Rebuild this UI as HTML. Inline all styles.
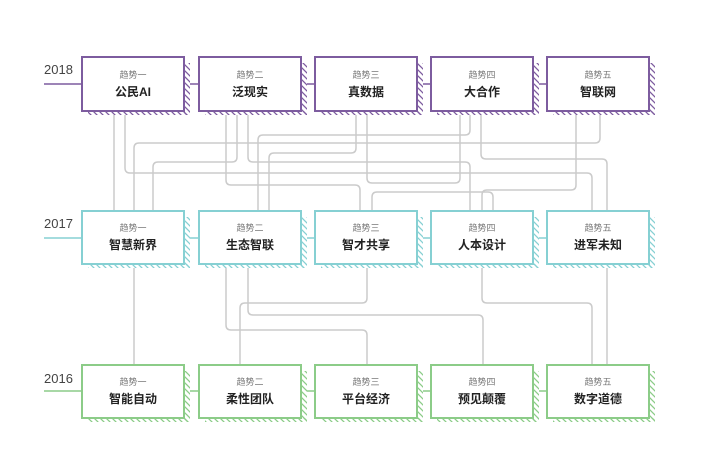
<!DOCTYPE html>
<html><head><meta charset="utf-8"><style>
html,body{margin:0;padding:0;background:#fff;}
svg{display:block;}
text{font-family:"Liberation Sans","Noto Sans CJK SC",sans-serif;}
</style></head><body>
<svg width="707" height="452" viewBox="0 0 707 452" xmlns="http://www.w3.org/2000/svg">
<defs>
<pattern id="hp" patternUnits="userSpaceOnUse" width="6" height="6"><path d="M-1,-1 L7,7 M-7,-1 L1,7 M5,-1 L13,7" stroke="#7d5c9f" stroke-width="1.3"/></pattern>
<pattern id="ht" patternUnits="userSpaceOnUse" width="6" height="6"><path d="M-1,-1 L7,7 M-7,-1 L1,7 M5,-1 L13,7" stroke="#86d0d3" stroke-width="1.3"/></pattern>
<pattern id="hg" patternUnits="userSpaceOnUse" width="6" height="6"><path d="M-1,-1 L7,7 M-7,-1 L1,7 M5,-1 L13,7" stroke="#8ccc88" stroke-width="1.3"/></pattern>
</defs>

<!-- connectors -->
<g fill="none" stroke="#cbcbcb" stroke-width="1.5">
<path d="M114 115 V211"/>
<path d="M125 115 V168 Q125 173 130 173 H587 Q592 173 592 178 V211"/>
<path d="M470 115 V130 Q470 135 465 135 H263 Q258 135 258 140 V211"/>
<path d="M600 115 V138 Q600 143 595 143 H139 Q134 143 134 148 V211"/>
<path d="M226 115 V180 Q226 185 231 185 H355 Q360 185 360 190 V211"/>
<path d="M237 115 V157 Q237 162 232 162 H158 Q153 162 153 167 V211"/>
<path d="M248 115 V157 Q248 162 253 162 H465 Q470 162 470 167 V211"/>
<path d="M356 115 V148 Q356 153 351 153 H274 Q269 153 269 158 V211"/>
<path d="M367 115 V178 Q367 183 372 183 H455 Q460 183 460 178 V115"/>
<path d="M481 115 V154 Q481 159 486 159 H602 Q607 159 607 164 V211"/>
<path d="M576 115 V185 Q576 190 571 190 H487 Q482 190 482 195 V211"/>
<path d="M372 211 V197 Q372 192 377 192 H488 Q493 192 493 197 V211"/>

<path d="M134 268 V365"/>
<path d="M226 268 V325 Q226 330 231 330 H362 Q367 330 367 335 V365"/>
<path d="M248 268 V310 Q248 315 253 315 H478 Q483 315 483 320 V365"/>
<path d="M367 268 V298 Q367 303 362 303 H245 Q240 303 240 308 V365"/>
<path d="M482 268 V298 Q482 303 487 303 H587 Q592 303 592 308 V365"/>
<path d="M607 268 V365"/>
</g>

<!-- 2018 row -->
<g>
<text x="44" y="74" font-size="13" fill="#444">2018</text>
<path d="M44 84 H82 M190 84 H199 M307 84 H315 M423 84 H431 M539 84 H547" stroke="#7d5c9f" stroke-width="1.5"/>
<g fill="url(#hp)">
<rect x="88" y="111" width="102" height="4"/><rect x="184" y="63" width="6" height="52"/>
<rect x="205" y="111" width="102" height="4"/><rect x="301" y="63" width="6" height="52"/>
<rect x="321" y="111" width="102" height="4"/><rect x="417" y="63" width="6" height="52"/>
<rect x="437" y="111" width="102" height="4"/><rect x="533" y="63" width="6" height="52"/>
<rect x="553" y="111" width="102" height="4"/><rect x="649" y="63" width="6" height="52"/>
</g>
<g fill="#fff" stroke="#7d5c9f" stroke-width="2">
<rect x="82" y="57" width="102" height="54"/>
<rect x="199" y="57" width="102" height="54"/>
<rect x="315" y="57" width="102" height="54"/>
<rect x="431" y="57" width="102" height="54"/>
<rect x="547" y="57" width="102" height="54"/>
</g>
<g text-anchor="middle" font-size="9" fill="#777">
<text x="133" y="78">趋势一</text><text x="250" y="78">趋势二</text><text x="366" y="78">趋势三</text><text x="482" y="78">趋势四</text><text x="598" y="78">趋势五</text>
</g>
<g text-anchor="middle" font-size="12" font-weight="bold" fill="#222">
<text x="133" y="96">公民AI</text><text x="250" y="96">泛现实</text><text x="366" y="96">真数据</text><text x="482" y="96">大合作</text><text x="598" y="96">智联网</text>
</g>
</g>

<!-- 2017 row -->
<g>
<text x="44" y="228" font-size="13" fill="#444">2017</text>
<path d="M44 238 H82 M190 238 H199 M307 238 H315 M423 238 H431 M539 238 H547" stroke="#86d0d3" stroke-width="1.5"/>
<g fill="url(#ht)">
<rect x="88" y="264" width="102" height="4"/><rect x="184" y="217" width="6" height="51"/>
<rect x="205" y="264" width="102" height="4"/><rect x="301" y="217" width="6" height="51"/>
<rect x="321" y="264" width="102" height="4"/><rect x="417" y="217" width="6" height="51"/>
<rect x="437" y="264" width="102" height="4"/><rect x="533" y="217" width="6" height="51"/>
<rect x="553" y="264" width="102" height="4"/><rect x="649" y="217" width="6" height="51"/>
</g>
<g fill="#fff" stroke="#86d0d3" stroke-width="2">
<rect x="82" y="211" width="102" height="53"/>
<rect x="199" y="211" width="102" height="53"/>
<rect x="315" y="211" width="102" height="53"/>
<rect x="431" y="211" width="102" height="53"/>
<rect x="547" y="211" width="102" height="53"/>
</g>
<g text-anchor="middle" font-size="9" fill="#777">
<text x="133" y="231">趋势一</text><text x="250" y="231">趋势二</text><text x="366" y="231">趋势三</text><text x="482" y="231">趋势四</text><text x="598" y="231">趋势五</text>
</g>
<g text-anchor="middle" font-size="12" font-weight="bold" fill="#222">
<text x="133" y="249">智慧新界</text><text x="250" y="249">生态智联</text><text x="366" y="249">智才共享</text><text x="482" y="249">人本设计</text><text x="598" y="249">进军未知</text>
</g>
</g>

<!-- 2016 row -->
<g>
<text x="44" y="383" font-size="13" fill="#444">2016</text>
<path d="M44 391 H82 M190 391 H199 M307 391 H315 M423 391 H431 M539 391 H547" stroke="#8ccc88" stroke-width="1.5"/>
<g fill="url(#hg)">
<rect x="88" y="418" width="102" height="4"/><rect x="184" y="371" width="6" height="51"/>
<rect x="205" y="418" width="102" height="4"/><rect x="301" y="371" width="6" height="51"/>
<rect x="321" y="418" width="102" height="4"/><rect x="417" y="371" width="6" height="51"/>
<rect x="437" y="418" width="102" height="4"/><rect x="533" y="371" width="6" height="51"/>
<rect x="553" y="418" width="102" height="4"/><rect x="649" y="371" width="6" height="51"/>
</g>
<g fill="#fff" stroke="#8ccc88" stroke-width="2">
<rect x="82" y="365" width="102" height="53"/>
<rect x="199" y="365" width="102" height="53"/>
<rect x="315" y="365" width="102" height="53"/>
<rect x="431" y="365" width="102" height="53"/>
<rect x="547" y="365" width="102" height="53"/>
</g>
<g text-anchor="middle" font-size="9" fill="#777">
<text x="133" y="385">趋势一</text><text x="250" y="385">趋势二</text><text x="366" y="385">趋势三</text><text x="482" y="385">趋势四</text><text x="598" y="385">趋势五</text>
</g>
<g text-anchor="middle" font-size="12" font-weight="bold" fill="#222">
<text x="133" y="403">智能自动</text><text x="250" y="403">柔性团队</text><text x="366" y="403">平台经济</text><text x="482" y="403">预见颠覆</text><text x="598" y="403">数字道德</text>
</g>
</g>
</svg>
</body></html>
